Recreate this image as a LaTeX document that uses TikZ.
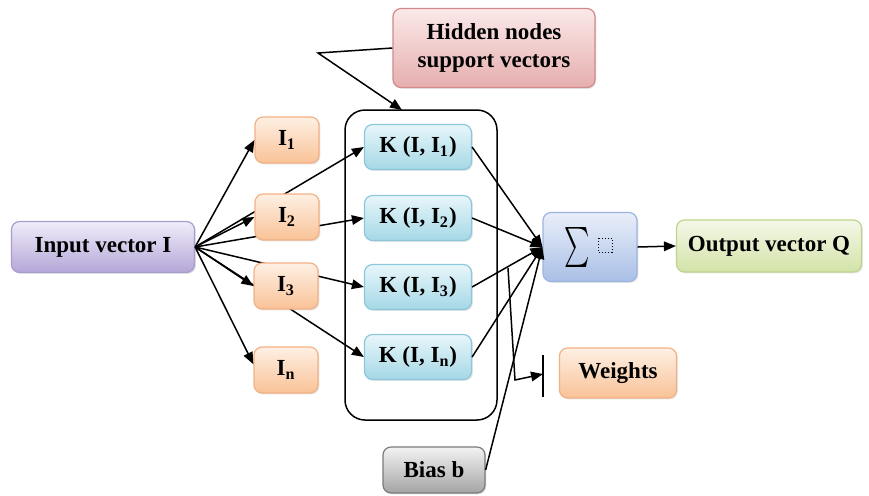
\documentclass[tikz,border=0pt]{standalone}
\usepackage{fontspec}
\setmainfont{Liberation Serif}
\usepackage{tikz}
\usetikzlibrary{arrows.meta,backgrounds,shadows}
\definecolor{ipt}{HTML}{F1EDF9}
\definecolor{ipc}{HTML}{B4A6D8}
\definecolor{ipd}{HTML}{A99DCC}
\definecolor{ort}{HTML}{FEF0E4}
\definecolor{orc}{HTML}{F9C297}
\definecolor{ord}{HTML}{F2B184}
\definecolor{kt}{HTML}{E8F6FA}
\definecolor{kc}{HTML}{A5D8E6}
\definecolor{kd}{HTML}{8CC8DA}
\definecolor{smt}{HTML}{E9EFF9}
\definecolor{smc}{HTML}{A9BFE6}
\definecolor{smd}{HTML}{9BB4E0}
\definecolor{oqt}{HTML}{F4F8E8}
\definecolor{oqc}{HTML}{D3E3A8}
\definecolor{oqd}{HTML}{BCD48C}
\definecolor{hdt}{HTML}{FBE9E9}
\definecolor{hdc}{HTML}{E6AEAE}
\definecolor{hdd}{HTML}{D08A8A}
\definecolor{bst}{HTML}{F3F3F3}
\definecolor{bsc}{HTML}{A4A4A4}
\definecolor{bsd}{HTML}{7A7A7A}
\tikzstyle{bx}=[rounded corners=4pt,draw,line width=.6pt,inner sep=1pt,font=\fontsize{11.5}{13.8}\selectfont\bfseries,drop shadow={opacity=.2,shadow xshift=.7pt,shadow yshift=-.7pt}]
\tikzstyle{ipb}=[bx,draw=ipd,top color=ipt,bottom color=ipc,minimum width=91.5pt,minimum height=25.5pt]
\tikzstyle{ib}=[bx,draw=ord,top color=ort,bottom color=orc,minimum width=32pt,minimum height=23pt]
\tikzstyle{kb}=[bx,draw=kd,top color=kt,bottom color=kc,minimum width=53.5pt,minimum height=22.5pt]
\tikzstyle{smb}=[bx,draw=smd,top color=smt,bottom color=smc,minimum width=47pt,minimum height=34.5pt]
\tikzstyle{oqb}=[bx,draw=oqd,top color=oqt,bottom color=oqc,minimum width=92.5pt,minimum height=26pt]
\tikzstyle{hdb}=[bx,draw=hdd,top color=hdt,bottom color=hdc,minimum width=101pt,minimum height=39.5pt,align=center]
\tikzstyle{wgb}=[bx,draw=ord,top color=ort,bottom color=orc,minimum width=58.5pt,minimum height=25pt]
\tikzstyle{bsb}=[bx,draw=bsd,top color=bst,bottom color=bsc,minimum width=51pt,minimum height=23pt]
\tikzstyle{hbx}=[draw,line width=.75pt,rounded corners=10pt,minimum width=76pt,minimum height=155pt]
\tikzstyle{ln}=[line width=.75pt]
\tikzstyle{ar}=[ln,-{Triangle[length=6pt,width=4.8pt]}]
\begin{document}
\begin{tikzpicture}[x=.5pt,y=-.5pt]
\useasboundingbox (0,0) rectangle (869,495);
\node[hbx] (hbox) at (421,265) {};
\node[ipb] (inp) at (103,247) {Input vector I};
\node[ib] (i1) at (287,140) {I\textsubscript{1}};
\node[ib] (i2) at (287,217) {I\textsubscript{2}};
\node[ib] (i3) at (286,286) {I\textsubscript{3}};
\node[ib] (in) at (286,370) {I\textsubscript{n}};
\node[kb] (k1) at (418,147) {K (I, I\textsubscript{1})};
\node[kb] (k2) at (418,218) {K (I, I\textsubscript{2})};
\node[kb] (k3) at (418,287) {K (I, I\textsubscript{3})};
\node[kb] (kn) at (418,357) {K (I, I\textsubscript{n})};
\node[smb] (sum) at (590,247) {\scalebox{1.2}[2]{$\sum$}\kern13pt};
\node[oqb] (out) at (769,246) {Output vector Q};
\node[hdb] (hid) at (494,48) {Hidden nodes\\support vectors};
\node[wgb] (wgt) at (618,373) {Weights};
\node[bsb] (bias) at (434,470) {Bias b};
\coordinate (cl) at (318,53);
\coordinate (ct) at (402,110);
\coordinate (wa) at (508,268);
\coordinate (wb) at (515,380);
\coordinate (wc) at (543,374);
\coordinate (wt) at (543,355);
\coordinate (wu) at (543,397);
\draw[densely dotted,line width=.5pt] ([shift={(8,-9)}]sum.center) rectangle +(14,14);
\begin{scope}[on background layer]
\draw[ar] (inp.east) -- (k1.west);
\draw[ar] (inp.east) -- (k2.west);
\draw[ar] (inp.east) -- (k3.west);
\draw[ar] (inp.east) -- (kn.west);
\end{scope}
\draw[ar] (inp.east) -- (i1.west);
\draw[ar] (inp.east) -- (i2.west);
\draw[ar] (inp.east) -- (i3.west);
\draw[ar] (inp.east) -- (in.170);
\draw[ar] (k1.east) -- (sum.west);
\draw[ar] (k2.east) -- (sum.west);
\draw[ar] (k3.east) -- (sum.west);
\draw[ar] (kn.east) -- (sum.west);
\draw[ar] (bias.east) -- (sum.west);
\draw[ar] (sum.east) -- (out.west);
\draw[ar] (hid.west) -- (cl) -- (ct);
\draw[ar] (wa) -- (wb) -- (wc);
\draw[ln] (wt) -- (wu);
\end{tikzpicture}
\end{document}
